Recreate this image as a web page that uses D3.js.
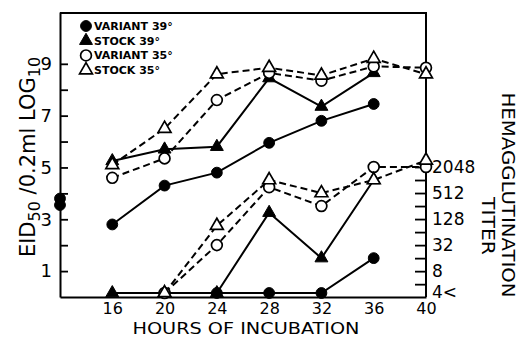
<!DOCTYPE html>
<html>
<head>
<meta charset="utf-8">
<script src="https://cdn.jsdelivr.net/npm/d3@7"></script>
<style>
  body { margin: 0; background: #fff; }
  text { font-family: "DejaVu Sans", sans-serif; fill: #000; }
</style>
</head>
<body>
<div id="chart-area"></div>
<script>
const width = 519;
const height = 338;

// hours of incubation
const hours = [16, 20, 24, 28, 32, 36, 40];
// inoculum points drawn on the left axis
const inocHour = 12;
const inoculum = [3.8, 3.55];

// log10 EID50 / 0.2ml
const variant39Inf = [2.8, 4.3, 4.8, 5.95, 6.8, 7.45, null];
const stock39Inf = [5.25, 5.7, 5.8, 8.45, 7.35, 8.65, null];
const variant35Inf = [4.6, 5.35, 7.6, 8.65, 8.35, 8.9, 8.85];
const stock35Inf = [5.1, 6.5, 8.6, 8.85, 8.55, 9.2, 8.6];

// hemagglutination titer ("<4" drawn just under 4)
const LT4 = 2.5;
const variant39HA = [null, null, LT4, LT4, LT4, 16, null];
const stock39HA = [LT4, LT4, LT4, 180, 16, 1024, null];
const variant35HA = [null, LT4, 32, 700, 256, 2048, 2048];
const stock35HA = [null, LT4, 90, 1024, 512, 1024, 2900];

const leftTicks = [1, 2, 3, 4, 5, 6, 7, 8, 9];
const titerTicks = [4, 8, 16, 32, 64, 128, 256, 512, 1024, 2048];
const titerLabels = [8, 32, 128, 512, 2048];

const legendNames = ["VARIANT 39°", "STOCK 39°", "VARIANT 35°", "STOCK 35°"];

const x = d3.scaleLinear().domain([12, 40]).range([60, 426]);
const y = d3.scaleLinear().domain([0, 11]).range([297, 12]);
const yT = d3.scaleLog().base(2).domain([LT4, 2048]).range([293, 167]);

const svg = d3.select("#chart-area")
    .append("svg")
    .attr("width", width)
    .attr("height", height);

// series: marker type, dashed?
const styles = [
    {shape: "circle", filled: true, dashed: false},
    {shape: "triangle", filled: true, dashed: false},
    {shape: "circle", filled: false, dashed: true},
    {shape: "triangle", filled: false, dashed: true}
];
const infSeries = [variant39Inf, stock39Inf, variant35Inf, stock35Inf];
const haSeries = [variant39HA, stock39HA, variant35HA, stock35HA];

function symbolPath(st) {
    return d3.symbol()
        .type(st.shape === "circle" ? d3.symbolCircle : d3.symbolTriangle)
        .size(st.shape === "circle" ? 92 : 72)();
}

function drawMarker(g, st, px, py) {
    g.append("path")
        .attr("d", symbolPath(st))
        .attr("transform", `translate(${px},${py})`)
        .attr("fill", st.filled ? "#000" : "#fff")
        .attr("stroke", "#000")
        .attr("stroke-width", st.filled ? 1 : 1.7);
}

// frame + axes
const axisStyle = g => {
    g.selectAll("path.domain").attr("stroke", "#000").attr("stroke-width", 2);
    g.selectAll(".tick line").attr("stroke", "#000").attr("stroke-width", 1.8);
    g.selectAll("text").style("font-size", "17px").attr("fill", "#000");
};

svg.append("line")
    .attr("x1", x(12)).attr("x2", x(40))
    .attr("y1", y(11) + 1).attr("y2", y(11) + 1)
    .attr("stroke", "#000").attr("stroke-width", 2);

svg.append("g")
    .attr("transform", `translate(${x(12)},0)`)
    .call(d3.axisLeft(y).tickValues(leftTicks).tickSize(-8).tickSizeOuter(0).tickPadding(8)
        .tickFormat(d => d % 2 === 1 ? d : ""))
    .call(axisStyle)
    .call(g => g.selectAll("text").style("font-size", "18px"));

svg.append("g")
    .attr("transform", `translate(${x(40)},0)`)
    .call(d3.axisRight(yT).tickValues(titerTicks).tickSize(-11).tickSizeOuter(0).tickPadding(6)
        .tickFormat(d => titerLabels.includes(d) ? d : ""))
    .call(axisStyle)
    .call(g => g.select("path.domain").attr("d", `M0,${y(11)}V${y(0)}`));

svg.append("text")
    .attr("x", x(40) + 6)
    .attr("y", yT(LT4))
    .attr("dy", "0.32em")
    .style("font-size", "17px")
    .text("4<");

svg.append("g")
    .attr("transform", `translate(0,${y(0)})`)
    .call(d3.axisBottom(x).tickValues(hours).tickSize(0).tickSizeOuter(0).tickPadding(6))
    .call(axisStyle)
    .call(g => g.selectAll("text").style("font-size", "16px"));

// axis titles
svg.append("text")
    .attr("x", x(12) + 186)
    .attr("y", 334)
    .attr("text-anchor", "middle")
    .attr("textLength", 227)
    .attr("lengthAdjust", "spacingAndGlyphs")
    .style("font-size", "16px")
    .text("HOURS OF INCUBATION");

const lt = svg.append("text")
    .attr("transform", "translate(35,157) rotate(-90)")
    .attr("text-anchor", "middle")
    .style("font-size", "21px");
lt.append("tspan").text("EID");
lt.append("tspan").attr("dy", 5).style("font-size", "16px").text("50");
lt.append("tspan").attr("dy", -5).text(" /0.2ml LOG");
lt.append("tspan").attr("dy", 5).style("font-size", "16px").text("10");

svg.append("text")
    .attr("transform", "translate(508,195) rotate(90)")
    .attr("text-anchor", "middle")
    .attr("dy", "0.36em")
    .attr("textLength", 205)
    .attr("lengthAdjust", "spacingAndGlyphs")
    .style("font-size", "18px")
    .text("HEMAGGLUTINATION");

svg.append("text")
    .attr("transform", "translate(488,226) rotate(90)")
    .attr("text-anchor", "middle")
    .attr("dy", "0.36em")
    .attr("textLength", 58)
    .attr("lengthAdjust", "spacingAndGlyphs")
    .style("font-size", "18px")
    .text("TITER");

// lines
function drawGroup(series, scale) {
    series.forEach((vals, i) => {
        const st = styles[i];
        const pts = hours.map((h, k) => ({h: h, v: vals[k]})).filter(d => d.v != null);
        svg.append("path")
            .datum(pts)
            .attr("fill", "none")
            .attr("stroke", "#000")
            .attr("stroke-width", 2)
            .attr("stroke-dasharray", st.dashed ? "7,4" : null)
            .attr("d", d3.line().x(d => x(d.h)).y(d => scale(d.v)));
    });
}

drawGroup(infSeries, y);
drawGroup(haSeries, yT);

const marks = svg.append("g");
[haSeries, infSeries].forEach((series, gi) => {
    const scale = gi === 0 ? yT : y;
    series.forEach((vals, i) => {
        hours.forEach((h, k) => {
            if (vals[k] != null) drawMarker(marks, styles[i], x(h), scale(vals[k]));
        });
    });
});

inoculum.forEach(v => drawMarker(marks, styles[0], x(inocHour), y(v)));

// legend
const legend = svg.append("g");
legendNames.forEach((name, i) => {
    const ly = 26 + i * 14.7;
    drawMarker(legend, styles[i], 86, ly);
    legend.append("text")
        .attr("x", 94)
        .attr("y", ly)
        .attr("dy", "0.36em")
        .style("font-size", "11px")
        .style("font-weight", "bold")
        .text(name);
});
</script>
</body>
</html>
